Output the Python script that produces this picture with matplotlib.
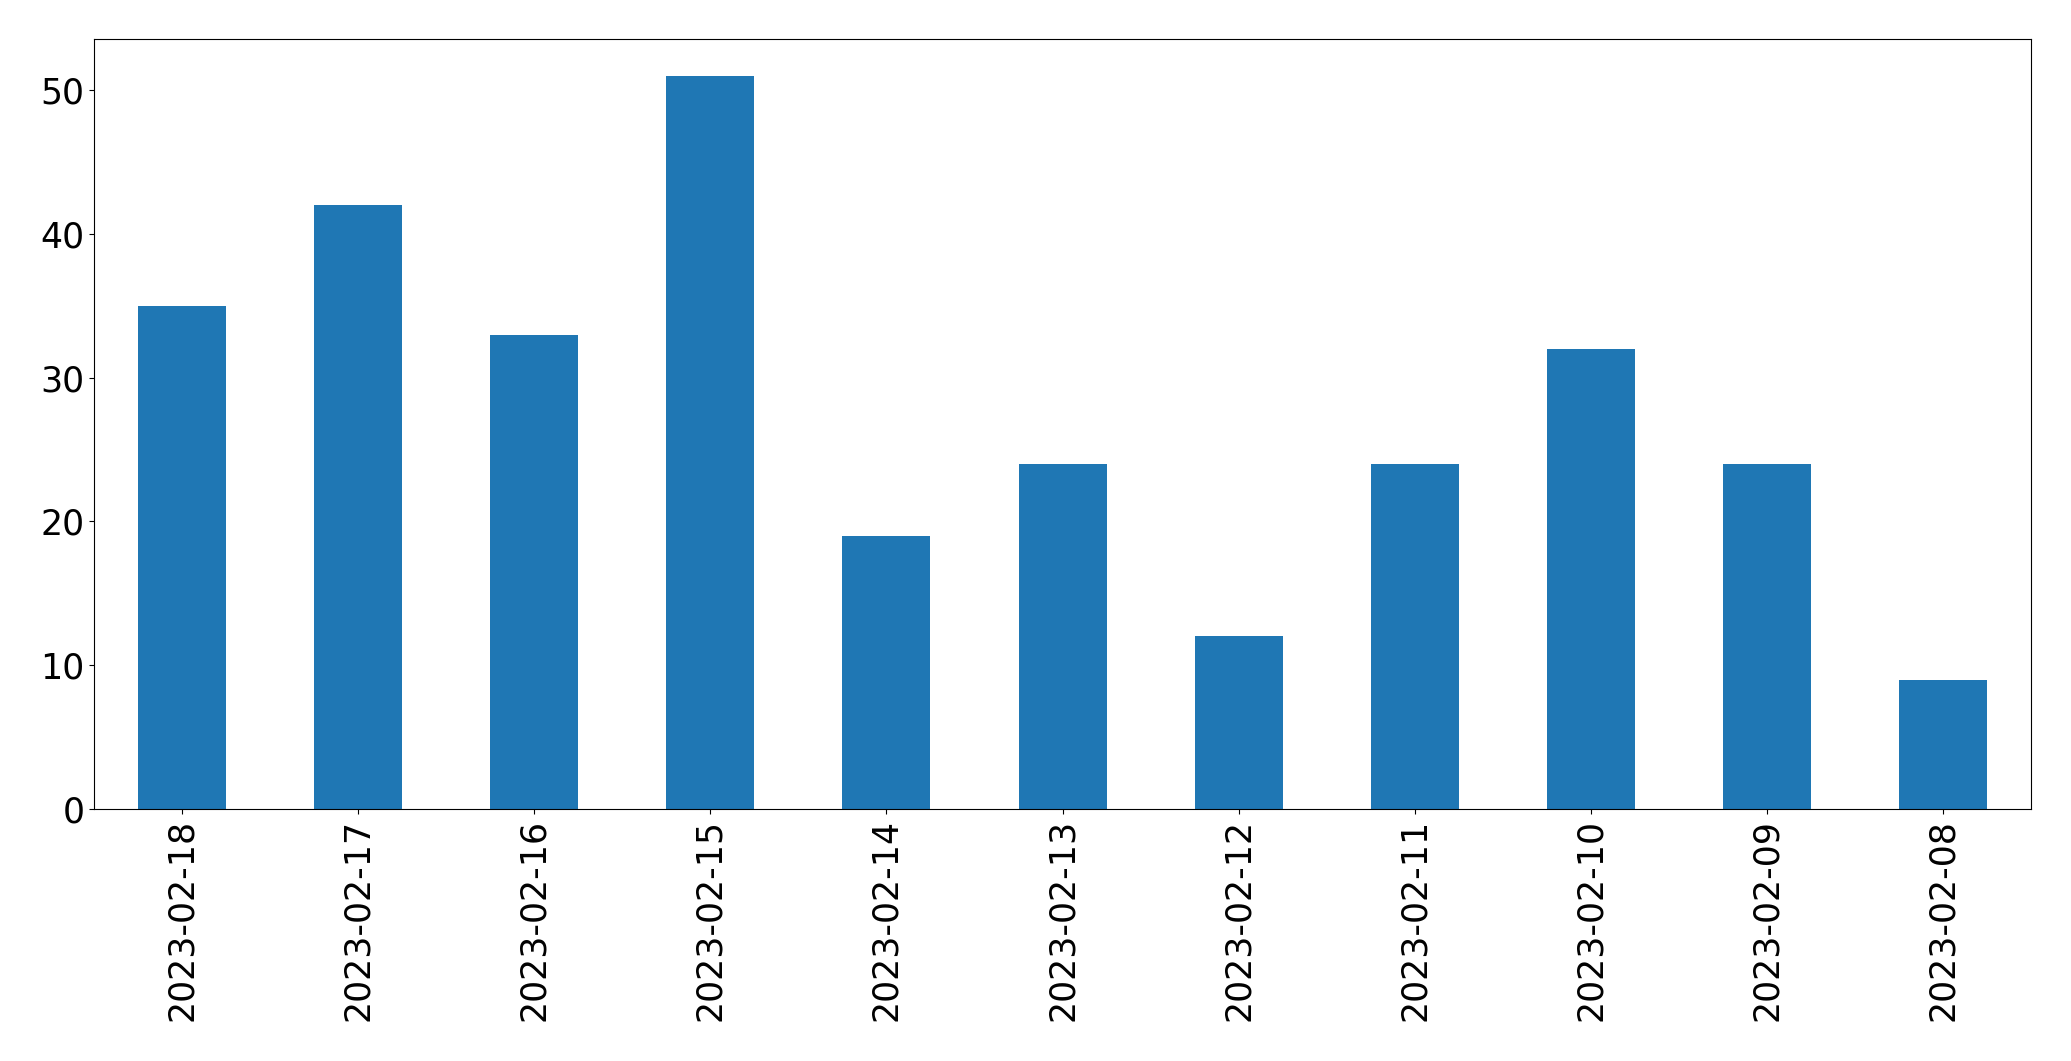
import pandas as pd
import numpy as np
import matplotlib
matplotlib.use('Agg')
import matplotlib.pyplot as plt

# daily counts, newest first
dates = ['2023-02-18', '2023-02-17', '2023-02-16', '2023-02-15', '2023-02-14',
         '2023-02-13', '2023-02-12', '2023-02-11', '2023-02-10', '2023-02-09',
         '2023-02-08']
counts = [35, 42, 33, 51, 19, 24, 12, 24, 32, 24, 9]

s = pd.Series(counts, index=dates)

fig, ax = plt.subplots(figsize=(20.71, 10.61), dpi=100)
s.plot(kind='bar', ax=ax, color='#1f77b4')
ax.set_ylim(0, max(counts) * 1.05)
ax.tick_params(axis='both', labelsize=25)
plt.subplots_adjust(left=0.0454, right=0.9807, top=0.9632, bottom=0.2375)
plt.savefig('out.png', dpi=100)
